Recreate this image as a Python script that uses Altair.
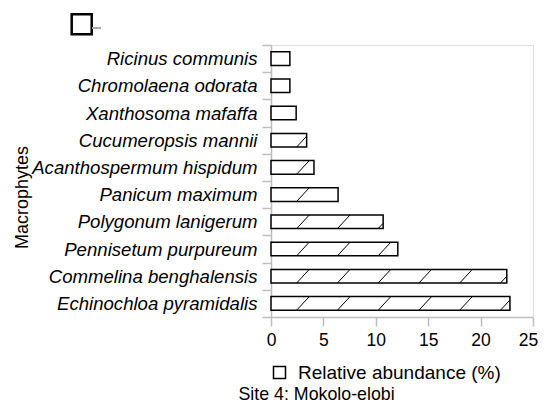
import altair as alt
import pandas as pd

species = [
    "Ricinus communis",
    "Chromolaena odorata",
    "Xanthosoma mafaffa",
    "Cucumeropsis mannii",
    "Acanthospermum hispidum",
    "Panicum maximum",
    "Polygonum lanigerum",
    "Pennisetum purpureum",
    "Commelina benghalensis",
    "Echinochloa pyramidalis",
]
abundance = [1.8, 1.8, 2.4, 3.4, 4.1, 6.4, 10.7, 12.1, 22.5, 22.8]
series_name = "Relative abundance (%)"
x_ticks = [0, 5, 10, 15, 20, 25]
caption = "Site 4: Mokolo-elobi"

FONT = "Liberation Sans"
GREY = "#bdbdbd"
HALF = 0.25  # half bar thickness in category units

bars = pd.DataFrame({
    "idx": list(range(len(species))),
    "name": species,
    "value": abundance,
    "series": [series_name] * len(species),
})
bars["lo"] = bars["idx"] - HALF
bars["hi"] = bars["idx"] + HALF

# diagonal hatch decoration, clipped at each bar's end
HATCH_START, HATCH_STEP, HATCH_RUN = 2.45, 3.89, 1.2
rows = []
for i, v in enumerate(abundance):
    x0 = HATCH_START
    while x0 < v:
        xe = min(x0 + HATCH_RUN, v)
        frac = (xe - x0) / HATCH_RUN
        rows.append({"x0": x0, "x1": xe, "y0": i + HALF, "y1": i + HALF - 2 * HALF * frac})
        x0 += HATCH_STEP
hatch = pd.DataFrame(rows)

names_js = "[" + ",".join("'" + s + "'" for s in species) + "]"
n = len(species)
y_scale = alt.Scale(domain=[-0.5, n - 0.5], reverse=True, nice=False, zero=False)
x_scale = alt.Scale(domain=[0, 25], nice=False)

step = 272 / n

x_axis = alt.Axis(
    values=x_ticks, title=None, grid=False, domainColor=GREY, tickColor=GREY,
    tickSize=9, labelFontSize=17.5, labelFont=FONT, labelColor="black",
    labelPadding=5, domainWidth=1.5, tickWidth=1.5, labelOverlap=False,
    labelFlush=False,
    labelOffset=alt.condition(f"datum.value == {x_ticks[-1]}", alt.value(-5), alt.value(0)),
)
y_axis = alt.Axis(
    values=[v - 0.5 for v in range(n + 1)],
    labelExpr=f"(datum.value + 0.5) < {n} ? {names_js}[datum.value + 0.5] : ''",
    labelOffset=step / 2,
    labelFontStyle="italic", labelFontSize=18.6, labelFont=FONT, labelColor="black",
    labelPadding=5, tickSize=9, grid=False, domainColor=GREY, tickColor=GREY,
    domainWidth=1.5, tickWidth=1.5, labelBound=False, labelOverlap=False,
    labelLimit=400, labelFlush=False,
    title="Macrophytes", titleFont=FONT, titleFontSize=18, titleFontWeight="normal",
    titleColor="black", titleX=-240, titleY=152,
)

base_bar = alt.Chart(bars).mark_rect(stroke="black", strokeWidth=1.5).encode(
    x=alt.X("value:Q", scale=x_scale, axis=x_axis),
    x2=alt.datum(0),
    y=alt.Y("lo:Q", scale=y_scale, axis=y_axis),
    y2="hi:Q",
    fill=alt.Fill(
        "series:N",
        scale=alt.Scale(domain=[series_name], range=["white"]),
        legend=alt.Legend(
            title=None, orient="none", legendX=-1, legendY=318, symbolType="square",
            symbolSize=144, symbolStrokeColor="black", symbolStrokeWidth=1.5,
            symbolFillColor="white", labelFont=FONT, labelFontSize=19,
            labelColor="black", labelOffset=9, padding=0, labelLimit=400,
        ),
    ),
)

hatch_layer = alt.Chart(hatch).mark_rule(color="black", strokeWidth=1).encode(
    x=alt.X("x0:Q", scale=x_scale, axis=x_axis),
    x2="x1:Q",
    y=alt.Y("y0:Q", scale=y_scale, axis=y_axis),
    y2="y1:Q",
)

cap = alt.Chart(pd.DataFrame({"t": [caption]})).mark_text(
    font=FONT, fontSize=17.8, align="left", baseline="alphabetic", color="black"
).encode(text="t:N", x=alt.value(-32.5), y=alt.value(354.5))

marker = alt.Chart(pd.DataFrame({"t": [1]})).mark_point(
    shape="square", size=400, filled=False, stroke="black", strokeWidth=2.5, opacity=1
).encode(x=alt.value(-189.3), y=alt.value(-20.8))

dash = alt.Chart(pd.DataFrame({"t": [1]})).mark_rule(color="#aaaaaa", strokeWidth=2).encode(
    x=alt.value(-179), x2=alt.value(-170), y=alt.value(-17)
)

chart = alt.layer(base_bar, hatch_layer, cap, marker, dash).properties(
    width=262, height=272,
    autosize=alt.AutoSizeParams(type="none"),
    padding={"left": 263, "top": 37, "right": 5, "bottom": 85},
).configure_view(stroke=GREY, strokeWidth=1.5).configure_axis(
    labelOverlap=False
).configure(background="white")

chart.save("out.html", embed_options={"renderer": "svg", "actions": False})
